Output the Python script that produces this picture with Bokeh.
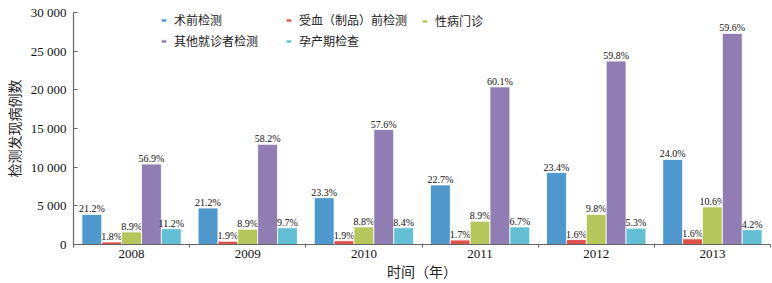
from bokeh.plotting import figure
from bokeh.models import ColumnDataSource, FixedTicker, Legend, LegendItem, Range1d
from bokeh.transform import dodge
from bokeh.core.properties import value
from bokeh.embed import file_html
from bokeh.resources import INLINE

years = ["2008", "2009", "2010", "2011", "2012", "2013"]
series_names = ["术前检测", "受血（制品）前检测", "性病门诊", "其他就诊者检测", "孕产期检查"]
surgery = [3880, 4720, 6050, 7700, 9300, 11000]
blood = [330, 420, 490, 580, 640, 730]
std_clinic = [1630, 1980, 2270, 3020, 3890, 4860]
other = [10400, 12950, 14870, 20380, 23720, 27300]
prenatal = [2050, 2160, 2170, 2270, 2100, 1920]
surgery_pct = ["21.2%", "21.2%", "23.3%", "22.7%", "23.4%", "24.0%"]
blood_pct = ["1.8%", "1.9%", "1.9%", "1.7%", "1.6%", "1.6%"]
std_pct = ["8.9%", "8.9%", "8.8%", "8.9%", "9.8%", "10.6%"]
other_pct = ["56.9%", "58.2%", "57.6%", "60.1%", "59.8%", "59.6%"]
prenatal_pct = ["11.2%", "9.7%", "8.4%", "6.7%", "5.3%", "4.2%"]
y_ticks = [0, 5000, 10000, 15000, 20000, 25000, 30000]
y_tick_labels = ["0", "5 000", "10 000", "15 000", "20 000", "25 000", "30 000"]
x_title = "时间（年）"
y_title = "检测发现病例数"

colors = ["#4f98cd", "#e0504b", "#b5c75a", "#8f7db3", "#63c0d4"]
values = [surgery, blood, std_clinic, other, prenatal]
pcts = [surgery_pct, blood_pct, std_pct, other_pct, prenatal_pct]
offsets = [-0.342, -0.171, 0.0, 0.171, 0.342]

SERIF = "Liberation Serif"
CJK = "Noto Sans CJK SC"
AXIS = "#666666"

p = figure(width=772, height=283, output_backend="svg", toolbar_location=None,
           x_range=Range1d(0, 6), y_range=Range1d(0, 30000),
           min_border_left=70, min_border_right=2, min_border_top=12, min_border_bottom=37)
p.outline_line_color = None
p.grid.grid_line_color = None

centers = [i + 0.5 for i in range(len(years))]
renderers = []
for name, vals, pc, col, off in zip(series_names, values, pcts, colors, offsets):
    src = ColumnDataSource(dict(x=centers, top=vals, lab=pc))
    r = p.vbar(x=dodge("x", off), top="top", width=0.171, source=src,
               fill_color=col, line_color="white", line_width=0.8)
    p.text(x=dodge("x", off), y="top", text="lab", source=src,
           text_align="center", text_baseline="bottom", y_offset=0,
           text_font=value(SERIF), text_font_size="10px", text_color="#111111")
    renderers.append(r)

legend_cols = [([0, 3], 87, 195), ([1, 4], 212, 195), ([2], 348, 215)]
for idxs, lx, ly in legend_cols:
    lg = Legend(items=[LegendItem(label=series_names[i], renderers=[renderers[i]]) for i in idxs],
                location=(lx, ly), orientation="vertical",
                border_line_color=None, background_fill_alpha=0,
                label_text_font=CJK, label_text_font_size="12px", label_text_color="#222222",
                glyph_width=7, glyph_height=4, label_standoff=7, spacing=4,
                padding=0, margin=0, label_height=14)
    p.add_layout(lg, "center")

p.xaxis.ticker = FixedTicker(ticks=centers, minor_ticks=list(range(0, 7)))
p.xaxis.major_label_overrides = {c: y for c, y in zip(centers, years)}
p.xaxis.major_tick_line_color = None
p.xaxis.major_tick_out = 0
p.xaxis.major_tick_in = 0
p.xaxis.minor_tick_out = 3
p.xaxis.minor_tick_in = 0
p.xaxis.minor_tick_line_color = AXIS
p.xaxis.major_label_text_font = SERIF
p.xaxis.major_label_text_font_size = "13px"
p.xaxis.major_label_standoff = 2
p.xaxis.axis_label = x_title
p.xaxis.axis_label_text_font = CJK
p.xaxis.axis_label_text_font_size = "14px"
p.xaxis.axis_label_text_font_style = "normal"
p.xaxis.axis_label_standoff = 0
p.xaxis.axis_label_text_color = "#222222"

p.yaxis.ticker = FixedTicker(ticks=y_ticks, minor_ticks=[])
p.yaxis.major_label_overrides = {t: l for t, l in zip(y_ticks, y_tick_labels)}
p.yaxis.major_tick_out = 0
p.yaxis.major_tick_in = 4
p.yaxis.major_tick_line_color = AXIS
p.yaxis.major_label_text_font = SERIF
p.yaxis.major_label_text_font_size = "13px"
p.yaxis.major_label_standoff = 7
p.yaxis.axis_label = y_title
p.yaxis.axis_label_text_font = CJK
p.yaxis.axis_label_text_font_size = "14px"
p.yaxis.axis_label_text_font_style = "normal"
p.yaxis.axis_label_standoff = 4
p.yaxis.axis_label_text_color = "#222222"

for ax in (p.xaxis, p.yaxis):
    ax.axis_line_color = AXIS
    ax.axis_line_width = 1.2
    ax.major_label_text_color = "#111111"

open("out.html", "w").write(file_html(p, INLINE))
